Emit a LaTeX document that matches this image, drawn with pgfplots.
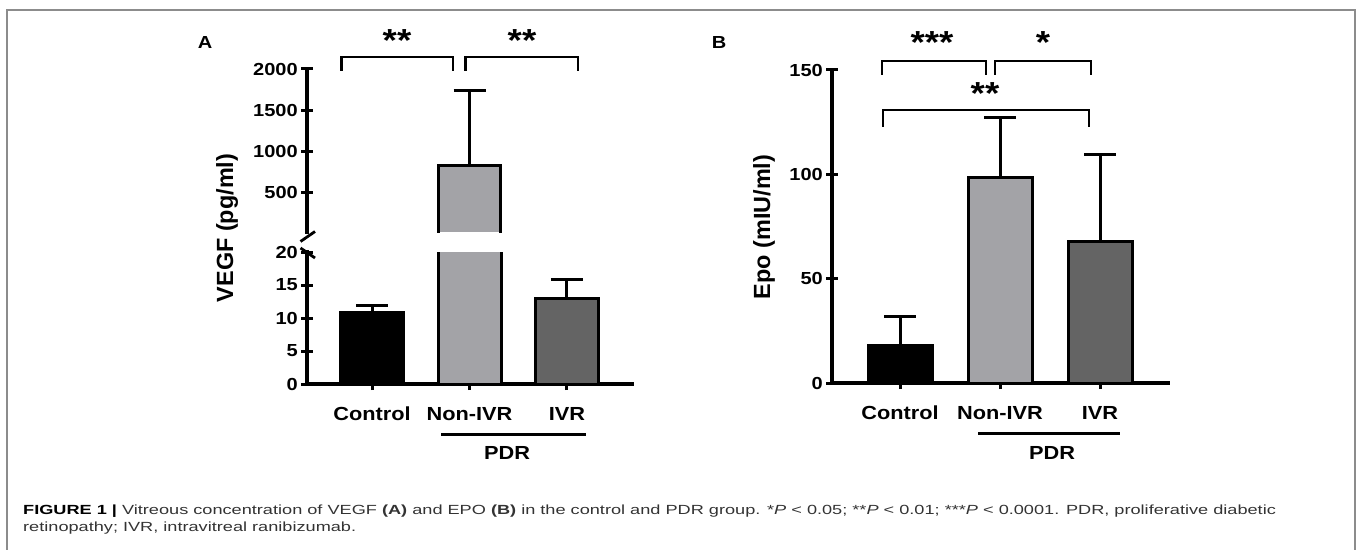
\documentclass[border=0pt]{standalone}
\usepackage{fontspec}
\setmainfont{Liberation Sans}
\newfontfamily\chartfont{Liberation Sans}[FakeStretch=1.15]
\newfontfamily\capfont{Liberation Sans}[FakeStretch=1.37]
\usepackage{pgfplots}
\pgfplotsset{compat=1.18}

\definecolor{barmid}{HTML}{A3A3A7}
\definecolor{bardark}{HTML}{646464}
\definecolor{framegray}{HTML}{8C8C8C}
\definecolor{captext}{HTML}{333333}

\newcommand\tickfont{\chartfont\bfseries\fontsize{17.5}{17.5}\selectfont}
\newcommand\catfont{\chartfont\bfseries\fontsize{19}{19}\selectfont}
\newcommand\labfont{\bfseries\fontsize{23.5}{23.5}\selectfont}
\newcommand\starfont{\chartfont\bfseries\fontsize{32}{32}\selectfont}

\pgfplotsset{
  panel/.style={
    scale only axis, anchor=south west,
    major tick length=12bp, tick align=outside,
    minor tick num=0,
    tick label style={font=\tickfont},
    /pgf/number format/assume math mode=true,
    /pgf/number format/1000 sep={},
    yticklabel style={inner sep=3bp},
    xticklabel style={font=\catfont, inner sep=0pt, yshift=-17bp},
  },
  thicklines/.style={
    every outer x axis line/.append style={-, line width=3.2bp, line cap=rect},
    every outer y axis line/.append style={-, line width=3.2bp, line cap=rect},
    axis line style={-, line width=3.2bp, line cap=rect},
    x axis line style={-, line width=3.2bp},
    y axis line style={-, line width=3.2bp},
    tick style={line width=3bp, black},
    major tick style={line width=3bp, black},
  },
  bar/.style={ybar, bar width=#1, bar shift=0pt, draw=black, line width=3bp,
    error bars/y dir=plus, error bars/y explicit,
    error bars/error bar style={line width=3bp, black},
    error bars/error mark options={rotate=90, line width=3bp, mark size=16bp, black}},
}

\begin{document}
\begin{tikzpicture}[x=1bp, y=-1bp]
\useasboundingbox (0,0) rectangle (1357,550);

% frame
\draw[framegray, line width=1.5bp] (7,560) -- (7,10) -- (1355,10) -- (1355,560);

% ---------- Panel A, lower part 0-20 ----------
\begin{axis}[panel, at={(307bp,-384bp)}, width=325bp, height=132bp,
  xmin=-0.667, xmax=2.667, ymin=0, ymax=20,
  axis lines=left, thicklines,
  ytick={0,5,10,15,20},
  xtick={0,1,2}, xticklabels={Control,Non-IVR,IVR}]
\addplot[bar=63bp, fill=black] coordinates {(0,10.8) +- (0,1.1)};
\addplot[ybar, bar width=63bp, bar shift=0pt, draw=black, line width=3bp, fill=barmid] coordinates {(1,825)};
\addplot[bar=63bp, fill=bardark] coordinates {(2,12.9) +- (0,2.9)};
\end{axis}

% ---------- Panel A, upper part 20-2000 ----------
\begin{axis}[panel, at={(307bp,-232bp)}, width=325bp, height=163bp,
  xmin=-0.667, xmax=2.667, ymin=20, ymax=2000,
  axis x line=none, axis y line=left, thicklines,
  ytick={500,1000,1500,2000}, xtick=\empty]
% bar fill and error bar; outline drawn open at the break
\addplot[bar=63bp, fill=barmid, draw=none] coordinates {(1,825) +- (0,912)};
\addplot[black, line width=3bp, no marks] coordinates {(0.677,0) (0.677,825) (1.323,825) (1.323,0)};
\end{axis}

% ---------- Panel B ----------
\begin{axis}[panel, at={(832bp,-383bp)}, width=336bp, height=313bp,
  xmin=-0.68, xmax=2.68, ymin=0, ymax=150,
  axis lines=left, thicklines,
  ytick={0,50,100,150},
  xtick={0,1,2}, xticklabels={Control,Non-IVR,IVR}]
\addplot[bar=64bp, fill=black] coordinates {(0,18.2) +- (0,13.9)};
\addplot[bar=64bp, fill=barmid] coordinates {(1,98.7) +- (0,28.3)};
\addplot[bar=64bp, fill=bardark] coordinates {(2,67.6) +- (0,42.1)};
\end{axis}

% axis break marks
\draw[line width=2.8bp] (300.5,241.5) -- (315,231.5);
\draw[line width=2.8bp] (300.5,248) -- (315,258);

% axis titles and panel letters
\node[font=\labfont, rotate=90, anchor=base] at (233,228) {VEGF (pg/ml)};
\node[font=\labfont, rotate=90, anchor=base] at (770,227) {Epo (mIU/ml)};
\node[font=\chartfont\bfseries\fontsize{17.5}{17.5}\selectfont] at (205,43) {A};
\node[font=\chartfont\bfseries\fontsize{17.5}{17.5}\selectfont] at (719,43) {B};

% PDR group lines
\draw[line width=3bp] (441,434) -- (586,434);
\node[font=\catfont] at (507,453) {PDR};
\draw[line width=3bp] (978,433) -- (1120,433);
\node[font=\catfont] at (1052,453) {PDR};

% significance brackets, panel A
\draw[line width=2.8bp] (341.5,71) -- (341.5,57) -- (453,57) -- (453,71);
\draw[line width=2.8bp] (465.5,71) -- (465.5,57) -- (578,57) -- (578,71);
\node[font=\starfont, anchor=base] at (397,52) {**};
\node[font=\starfont, anchor=base] at (522,52) {**};

% significance brackets, panel B
\draw[line width=2.8bp] (882,75) -- (882,61) -- (986,61) -- (986,75);
\draw[line width=2.8bp] (995,75) -- (995,61) -- (1091,61) -- (1091,75);
\draw[line width=2.8bp] (883,127) -- (883,110) -- (1089,110) -- (1089,127);
\node[font=\starfont, anchor=base] at (932,54) {***};
\node[font=\starfont, anchor=base] at (1043,54) {*};
\node[font=\starfont, anchor=base] at (985,105) {**};

% caption
\node[anchor=base west, inner sep=0pt, text=captext, font=\capfont\fontsize{13.3}{13.3}\selectfont] at (23,514)
  {{\color{black}\bfseries FIGURE 1 |} Vitreous concentration of VEGF {\bfseries(A)} and EPO {\bfseries(B)} in the control and PDR group. *\textit{P} < 0.05; **\textit{P} < 0.01; ***\textit{P} < 0.0001. PDR, proliferative diabetic};
\node[anchor=base west, inner sep=0pt, text=captext, font=\capfont\fontsize{13.3}{13.3}\selectfont] at (23,531)
  {retinopathy; IVR, intravitreal ranibizumab.};
\end{tikzpicture}
\end{document}
